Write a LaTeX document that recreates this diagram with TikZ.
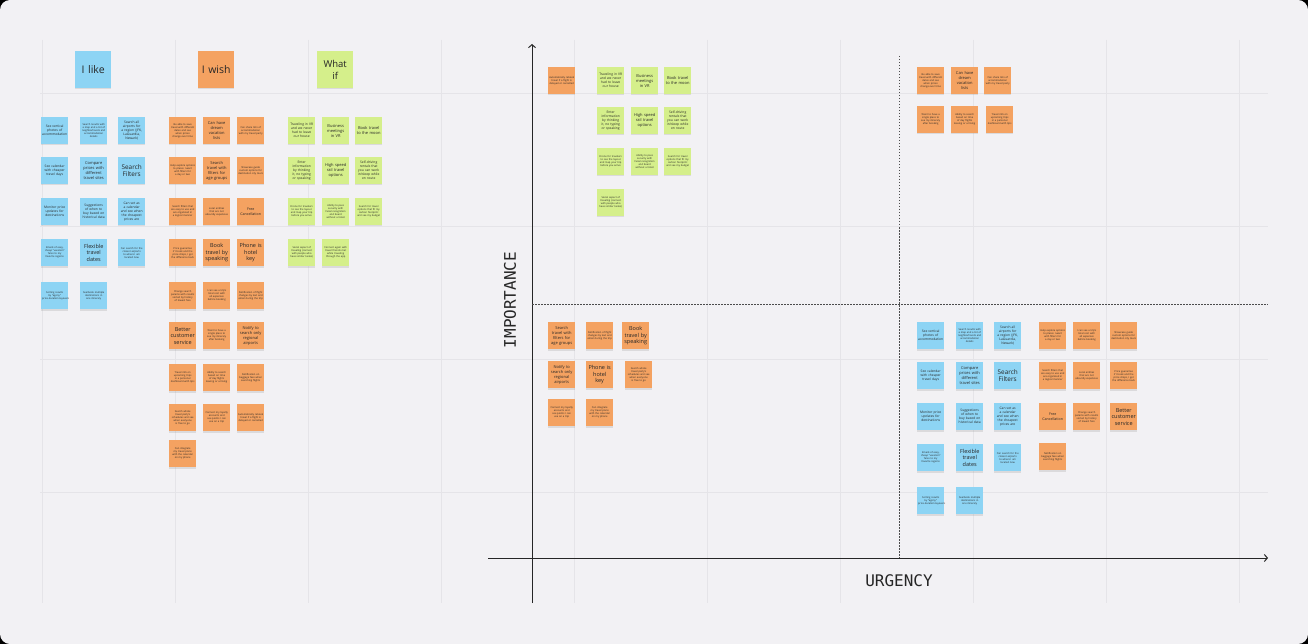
\documentclass[tikz,border=0pt]{standalone}
\usepackage{fontspec}
\setmainfont{Open Sans}
\newfontfamily\axisfont{DejaVu Sans Mono}
\usetikzlibrary{arrows.meta,shadows}

\definecolor{board}{HTML}{F2F1F4}
\definecolor{gridgray}{HTML}{E5E4E8}
\definecolor{likeblue}{HTML}{8DD4F4}
\definecolor{wishorange}{HTML}{F4A261}
\definecolor{ifgreen}{HTML}{D5EF8B}

% note text sizes: t tiny, s small, c cancel, m mid, b big, x extra big
\newcommand\nft{\fontsize{2.5}{3.0}\selectfont}
\newcommand\nfs{\fontsize{3.3}{4.0}\selectfont}
\newcommand\nfc{\fontsize{3.6}{4.6}\selectfont}
\newcommand\nfm{\fontsize{4.0}{4.9}\selectfont}
\newcommand\nfb{\fontsize{5.5}{6.6}\selectfont}
\newcommand\nfx{\fontsize{6.4}{7.6}\selectfont}
\hyphenpenalty=10000
\exhyphenpenalty=10000

\begin{document}
\begin{tikzpicture}[x=1pt,y=-1pt,
  note/.style={anchor=north west, minimum width=27pt, minimum height=27pt, inner sep=0pt,
    text width=25pt, align=center, text=black!85,
    drop shadow={shadow xshift=0pt, shadow yshift=-1.3pt, opacity=0.2}},
  header/.style={note, minimum width=36pt, minimum height=37pt, text width=32pt,
    font=\fontsize{10.5}{12.5}\selectfont},
  like/.style={note, fill=likeblue},
  wish/.style={note, fill=wishorange},
  whatif/.style={note, fill=ifgreen},
  axis/.style={line width=1pt, black!85},
  split/.style={black!70, line width=0.6pt, dash pattern=on 1.5pt off 1.5pt},
  axislabel/.style={font=\axisfont\fontsize{16}{18}\selectfont, text=black!85}]

\useasboundingbox (0,0) rectangle (1308,644);
\fill[black] (0,0) rectangle (1308,644);
\fill[board, rounded corners=10pt] (0,0) rectangle (1308,644);

% grid
\foreach \x in {42,175,...,1239} \draw[gridgray, line width=0.8pt] (\x,40) -- (\x,603);
\foreach \y in {93,226,...,492} \draw[gridgray, line width=0.8pt] (40,\y) -- (1268,\y);

% axes
\coordinate (ytop) at (532,44);
\coordinate (ybot) at (532,603);
\coordinate (xleft) at (488,558);
\coordinate (xright) at (1268,558);
\draw[axis, -{Straight Barb[length=3pt,width=7pt]}] (ybot) -- (ytop);
\draw[axis, -{Straight Barb[length=3pt,width=7pt]}] (xleft) -- (xright);
\coordinate (vtop) at (899,56);
\coordinate (vbot) at (899,558);
\coordinate (hleft) at (532,304);
\coordinate (hright) at (1268,304);
\draw[split] (vtop) -- (vbot);
\draw[split] (hleft) -- (hright);
\node[axislabel] (urgency) at (899,581) {URGENCY};
\node[axislabel, rotate=90] (importance) at (510,300) {IMPORTANCE};

% headers
\node[header, fill=likeblue] (hlike) at (75,51) {I like};
\node[header, fill=wishorange] (hwish) at (198,51) {I wish};
\node[header, fill=ifgreen, font=\fontsize{9.5}{11.5}\selectfont] (hwhatif) at (317,51) {What\\if};

% I like, and its copy in the urgent / not important corner
\foreach \dx/\dy/\k in {0/0/l, 876/205/r}
\foreach \n/\x/\y/\sz/\txt in {
  1/41/117/s/{See vertical photos of accommodation},
  2/80/117/t/{Search results with a map and a list of neighborhoods and accommodation details},
  3/118/117/s/{Search all airports for a region (JFK, LaGuardia, Newark)},
  4/41/157/s/{See calendar with cheaper travel days},
  5/80/157/m/{Compare prices with different travel sites},
  6/118/157/x/{Search Filters},
  7/41/198/s/{Monitor price updates for destinations},
  8/80/198/s/{Suggestions of when to buy based on historical data},
  9/118/198/s/{Can set as a calendar and see when the cheapest prices are},
  10/41/239/t/{Emails of easy, cheap “vacation” fares to my favorite regions},
  11/80/239/b/{Flexible travel dates},
  12/118/239/t/{Can search for the closest airports to where I am located now},
  13/41/282/t/{Sorting results by “agony” price-duration-layovers},
  14/80/282/t/{See/book multiple destinations in one itinerary}}
  \node[like, font=\csname nf\sz\endcsname] (like\k\n) at (\x+\dx,\y+\dy) {\txt};

% I wish
\foreach \n/\x/\y/\sz/\txt in {
  1/169/117/t/{Be able to save travel with different dates and see when prices change over time},
  2/203/117/m/{Can have\\dream\\vacation\\lists},
  3/237/117/t/{Can share lists of accommodation with my travel party},
  4/169/157/t/{Help explore options to places I want with filters for a day or two},
  5/203/157/m/{Search travel with filters for age groups},
  6/237/157/t/{Showcase guide custom options for destination city tours},
  7/169/198/t/{Search filters that are easy to use and are organized in a logical manner},
  8/203/198/t/{Local entities that are not absurdly expensive},
  9/237/198/c/{Free Cancellation},
  10/169/239/t/{Price guarantee if I book and the price drops, I get the difference back},
  11/203/239/b/{Book\\travel by\\speaking},
  12/237/239/b/{Phone is\\hotel\\key},
  13/169/282/t/{Change search params with results sorted by history of lowest fare},
  14/203/282/t/{I can see a trip's total cost with all expenses before booking},
  15/237/282/t/{Notification of flight changes by text and email during the trip},
  16/169/322/b/{Better customer service},
  17/203/322/t/{Want to have a single place to see my itinerary after booking},
  18/237/322/m/{Notify to search only regional airports},
  19/169/364/t/{Travel info on upcoming trips in a personal dashboard with tips},
  20/203/364/t/{Ability to search based on time of day flights leaving or arriving},
  21/237/364/t/{Notification on baggage fees when searching flights},
  22/169/404/t/{Search whole travel party's schedules and see when everyone is free to go},
  23/203/404/t/{Connect my loyalty accounts and see points I can use on a trip},
  24/237/404/t/{Automatically rebook travel if a flight is delayed or cancelled},
  25/169/440/t/{Can integrate my travel plans with the calendar on my phone}}
  \node[wish, font=\csname nf\sz\endcsname] (wishl\n) at (\x,\y) {\txt};

% What if, and its copy in the important / not urgent corner
\foreach \dx/\dy/\k in {0/0/l, 309/-50/r}
\foreach \n/\x/\y/\sz/\txt in {
  1/288/117/s/{Traveling in VR and we never had to leave our house},
  2/322/117/m/{Business meetings in VR},
  3/355/117/m/{Book travel to the moon},
  4/288/157/s/{Enter information by thinking it, no typing or speaking},
  5/322/157/m/{High speed rail travel options},
  6/355/157/s/{Self-driving rentals that you can work in/sleep while en route},
  7/288/198/t/{Drone for travelers to see the layout and map your trip before you arrive},
  8/322/198/t/{Ability to pass security with facial recognition and board without a ticket},
  9/355/198/t/{Search for travel options that fit my carbon footprint and see my budget},
  10/288/239/t/{Social aspect of traveling (connect with people who have similar tastes)}}
  \node[whatif, font=\csname nf\sz\endcsname] (whatif\k\n) at (\x+\dx,\y+\dy) {\txt};
\node[whatif, font=\nft] (whatifl11) at (322,239) {Connect again with travel friends met while traveling through the app};

% I wish, sorted on the matrix
\node[wish, font=\nft] (wishr24) at (548,67) {Automatically rebook travel if a flight is delayed or cancelled};
\foreach \n/\x/\y/\sz/\txt in {
  1/917/67/t/{Be able to save travel with different dates and see when prices change over time},
  2/951/67/m/{Can have\\dream\\vacation\\lists},
  3/984/67/t/{Can share lists of accommodation with my travel party},
  17/917/106/t/{Want to have a single place to see my itinerary after booking},
  20/951/106/t/{Ability to search based on time of day flights leaving or arriving},
  19/986/106/t/{Travel info on upcoming trips in a personal dashboard with tips},
  5/548/322/m/{Search travel with filters for age groups},
  15/586/322/t/{Notification of flight changes by text and email during the trip},
  11/622/322/b/{Book\\travel by\\speaking},
  18/548/361/m/{Notify to search only regional airports},
  12/586/361/b/{Phone is\\hotel\\key},
  22/625/361/t/{Search whole travel party's schedules and see when everyone is free to go},
  23/548/399/t/{Connect my loyalty accounts and see points I can use on a trip},
  25/586/399/t/{Can integrate my travel plans with the calendar on my phone},
  4/1039/322/t/{Help explore options to places I want with filters for a day or two},
  14/1073/322/t/{I can see a trip's total cost with all expenses before booking},
  6/1110/322/t/{Showcase guide custom options for destination city tours},
  7/1039/362/t/{Search filters that are easy to use and are organized in a logical manner},
  8/1073/362/t/{Local entities that are not absurdly expensive},
  10/1110/362/t/{Price guarantee if I book and the price drops, I get the difference back},
  9/1039/403/c/{Free Cancellation},
  13/1073/403/t/{Change search params with results sorted by history of lowest fare},
  16/1110/403/b/{Better customer service},
  21/1039/443/t/{Notification on baggage fees when searching flights}}
  \node[wish, font=\csname nf\sz\endcsname] (wishr\n) at (\x,\y) {\txt};
\end{tikzpicture}
\end{document}
